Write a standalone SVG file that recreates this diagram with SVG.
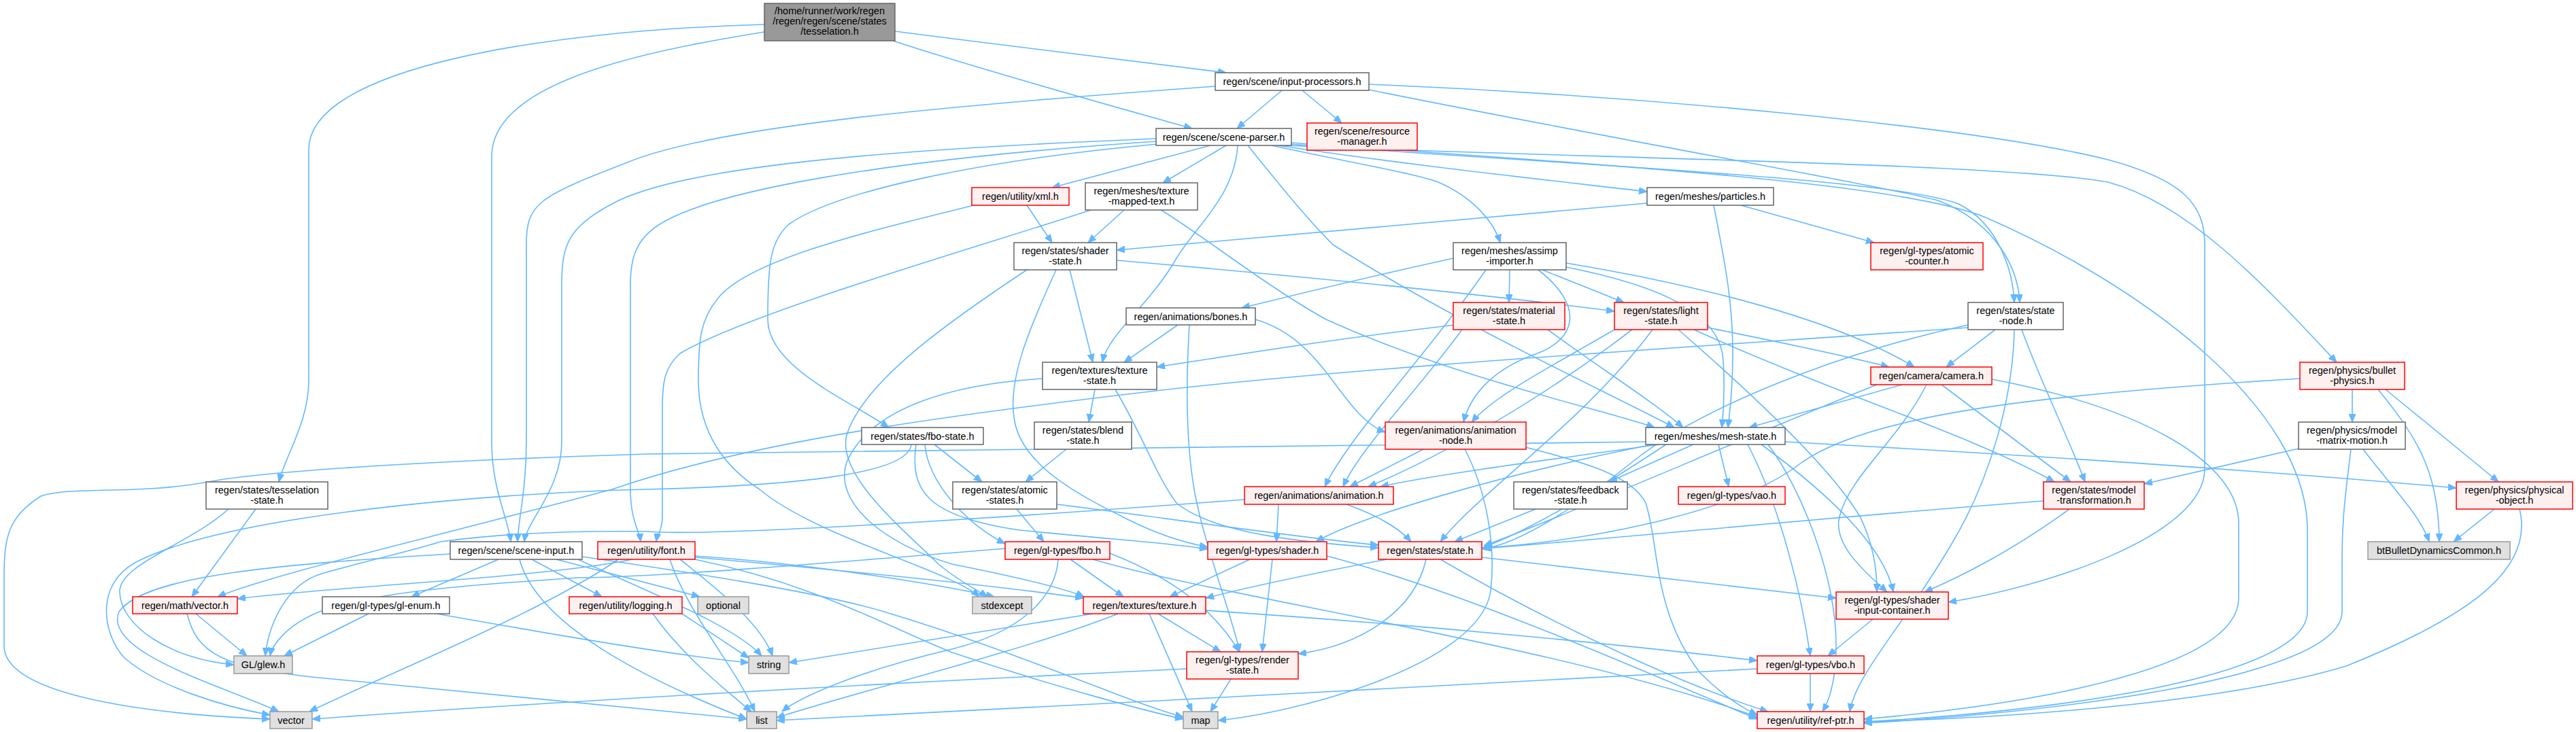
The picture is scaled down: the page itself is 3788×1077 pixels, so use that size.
<svg xmlns="http://www.w3.org/2000/svg" width="3788" height="1077" viewBox="0 0 3788 1077">
<defs>
<marker id="ah" viewBox="0 0 12 10" refX="12" refY="5" markerWidth="12" markerHeight="10" markerUnits="userSpaceOnUse" orient="auto"><path d="M0,0L12,5L0,10z" fill="#63b8ff" stroke="#63b8ff"/></marker>
<style>
.e path{fill:none;stroke:#63b8ff;stroke-width:1.6;marker-end:url(#ah)}
text{font-family:"Liberation Sans",Arial,Helvetica,sans-serif;font-size:14.5px;text-anchor:middle;fill:#000}
.n rect{fill:#ffffff;stroke:#666666;stroke-width:1.5}
.r rect{fill:#fff0f0;stroke:#ff0000}
.g rect{fill:#e0e0e0;stroke:#999999}
.root rect{fill:#999999;stroke:#666666}
</style>
</defs>
<rect width="3788" height="1077" fill="#ffffff"/>
<g id="edges" class="e">
<path d="M1316,46 C1500,70 1700,94 1803,107"/>
<path d="M1313,60 C1450,105 1650,160 1753,189"/>
<path d="M1124,36 C800,45 454,100 454,220 L454,560 C454,620 420,670 410,709"/>
<path d="M1124,47 C950,75 723,120 723,230 L723,650 C723,720 748,765 751,797"/>
<path d="M1885,133 L1819,189"/>
<path d="M1915,133 L1973,181"/>
<path d="M1787,127 C1400,155 1050,185 920,240 C790,290 774,300 774,360 L774,650 C774,720 762,765 761,797"/>
<path d="M1700,204 C1300,220 1000,245 900,300 C835,335 826,360 826,420 L826,650 C826,720 775,765 771,797"/>
<path d="M1700,208 C1300,235 1050,280 970,330 C935,352 927,380 927,420 L927,720 C927,765 940,780 942,797"/>
<path d="M1702,212 C1450,235 1230,280 1160,330 C1132,355 1129,390 1129,470 C1129,540 1250,590 1307,629"/>
<path d="M1780,214 L1547,276"/>
<path d="M1803,214 L1710,269"/>
<path d="M1820,214 C1815,290 1760,330 1730,380 C1690,450 1630,490 1621,533"/>
<path d="M1835,214 C1880,270 1920,320 1960,360 C2150,480 2370,580 2462,629"/>
<path d="M1880,214 C2050,240 2250,262 2422,282"/>
<path d="M1870,214 C1990,240 2080,255 2115,268 C2170,292 2198,330 2206,357"/>
<path d="M1890,214 C2300,232 2950,240 3100,268 C3220,300 3330,420 3436,533"/>
<path d="M1896,212 C2300,242 2780,262 2880,300 C2940,330 2960,400 2962,445"/>
<path d="M2013,132 C2400,210 2750,270 2850,295 C2940,330 2968,400 2970,445"/>
<path d="M1898,210 C2400,245 2800,270 2920,320 C3150,420 3393,600 3393,780 L3393,900 C3393,1000 3000,1048 2741,1062"/>
<path d="M2013,124 C2400,140 2900,185 3100,235 C3210,265 3242,300 3242,360 L3242,690 C3242,790 3000,865 2865,886"/>
<path d="M1510,302 L1547,357"/>
<path d="M1653,309 L1600,357"/>
<path d="M2422,299 L1642,368"/>
<path d="M1432,302 C1300,335 1100,380 1055,440 C1030,470 1027,500 1027,560 C1027,640 1070,690 1117,720 C1200,790 1400,840 1440,878"/>
<path d="M1604,309 C1450,360 1100,460 1000,520 C978,540 974,560 974,600 L974,760 C974,780 966,790 965,797"/>
<path d="M1707,309 C1760,340 1860,420 1950,470 C2150,560 2350,600 2433,629"/>
<path d="M2560,302 L2756,357"/>
<path d="M2520,302 C2535,380 2548,440 2548,520 C2548,580 2543,610 2541,629"/>
<path d="M1573,397 L1607,533"/>
<path d="M1642,383 C1900,405 2200,435 2374,458"/>
<path d="M1553,397 C1515,480 1480,560 1492,620 C1505,690 1600,735 1660,765 C1710,790 1750,800 1776,805"/>
<path d="M1510,397 C1400,470 1270,560 1245,640 C1230,700 1330,780 1380,830 C1410,855 1440,870 1452,878"/>
<path d="M2220,397 L2219,445"/>
<path d="M2268,397 L2388,445"/>
<path d="M2137,380 C2000,410 1900,435 1826,453"/>
<path d="M2303,387 C2500,420 2700,470 2815,540"/>
<path d="M2262,397 C2330,450 2320,500 2255,522 C2185,548 2160,590 2152,621"/>
<path d="M2303,393 C2440,420 2530,460 2534,530 C2537,580 2534,610 2532,629"/>
<path d="M2185,397 C2100,520 1985,640 1948,716"/>
<path d="M2140,478 C1950,500 1800,525 1701,540"/>
<path d="M2276,485 C2350,540 2430,590 2475,629"/>
<path d="M2150,485 C2080,580 2000,660 1975,716"/>
<path d="M2374,485 C2280,540 2200,580 2164,621"/>
<path d="M2511,482 C2600,500 2700,520 2778,540"/>
<path d="M2430,485 C2330,620 2180,720 2118,797"/>
<path d="M2468,485 C2600,600 2700,700 2735,760 C2755,800 2760,840 2760,871"/>
<path d="M2491,485 C2700,580 2900,640 3021,709"/>
<path d="M2400,485 C2250,600 2100,680 2012,716"/>
<path d="M2934,485 L2862,540"/>
<path d="M2973,485 C3000,560 3040,640 3066,709"/>
<path d="M2894,478 C2700,520 2500,600 2400,680 C2300,760 2230,800 2180,808"/>
<path d="M2962,485 C2960,580 2930,700 2870,800 C2800,920 2730,990 2720,1047"/>
<path d="M2894,482 C2500,510 2000,540 1700,575 C1400,610 1100,650 900,720 C600,800 400,845 320,878"/>
<path d="M1732,478 L1653,533"/>
<path d="M1846,470 C1950,500 1970,610 2037,636"/>
<path d="M1749,478 C1744,560 1744,650 1756,720 C1770,800 1810,900 1823,959"/>
<path d="M1610,573 L1601,621"/>
<path d="M1640,573 C1680,640 1700,700 1730,740 C1790,790 1950,800 2027,806"/>
<path d="M1533,557 C1400,565 1280,600 1245,680 C1225,740 1300,800 1400,830 C1500,850 1565,865 1594,878"/>
<path d="M3459,573 L3459,621"/>
<path d="M3508,573 L3674,709"/>
<path d="M3497,573 C3560,650 3586,700 3587,797"/>
<path d="M3382,557 C3000,580 2750,610 2650,680 C2550,760 2300,800 2180,806"/>
<path d="M2797,566 L2572,629"/>
<path d="M2855,566 L3045,709"/>
<path d="M2833,566 C2790,650 2720,700 2705,760 C2695,800 2740,840 2775,871"/>
<path d="M2929,558 C3150,600 3292,680 3292,770 L3292,880 C3292,990 2950,1040 2741,1058"/>
<path d="M2760,566 C2550,650 2300,760 2182,803"/>
<path d="M1374,654 L1444,709"/>
<path d="M1360,654 C1365,710 1420,770 1478,800"/>
<path d="M1347,654 C1338,720 1360,760 1500,780 C1650,795 1730,800 1776,808"/>
<path d="M1340,654 C1336,700 1150,715 950,720 C700,726 330,760 200,827 C140,860 150,930 182,967 C230,1010 330,1040 397,1052"/>
<path d="M1568,661 L1508,709"/>
<path d="M2093,661 L1985,716"/>
<path d="M2154,661 C2185,720 2200,800 2192,870 C2175,980 1900,1050 1791,1060"/>
<path d="M2243,658 C2330,680 2400,700 2420,740 C2440,800 2430,900 2500,990 C2540,1030 2570,1045 2584,1052"/>
<path d="M2490,654 L2366,709"/>
<path d="M2527,654 L2542,716"/>
<path d="M2450,654 C2350,720 2250,780 2182,805"/>
<path d="M2440,654 C2250,680 2100,700 2030,716"/>
<path d="M2590,654 C2680,720 2770,800 2784,871"/>
<path d="M2570,654 C2620,750 2650,880 2662,965"/>
<path d="M2625,650 C2900,665 3300,690 3612,718"/>
<path d="M2420,650 L950,668 C700,676 400,690 300,710 C200,728 100,715 60,730 C12,760 6,790 6,850 L6,950 C6,1020 200,1050 397,1058"/>
<path d="M2430,654 C2200,700 2000,760 1935,797"/>
<path d="M2600,654 C2650,720 2700,850 2700,950 C2700,1000 2690,1030 2680,1047"/>
<path d="M3380,660 L3153,712"/>
<path d="M3475,661 C3520,720 3560,760 3572,797"/>
<path d="M3457,661 C3450,720 3444,760 3444,820 L3444,900 C3444,1000 3000,1050 2741,1064"/>
<path d="M1495,749 L1535,797"/>
<path d="M1554,742 C1700,760 1900,790 2027,802"/>
<path d="M1880,742 L1877,797"/>
<path d="M1980,742 C2030,760 2060,780 2075,797"/>
<path d="M1830,735 C1500,760 1050,790 950,782 C800,780 700,790 648,797 C600,812 520,830 473,844 C420,860 395,920 390,965"/>
<path d="M2258,749 L2139,797"/>
<path d="M3043,749 C2960,810 2880,850 2830,871"/>
<path d="M3005,737 C2700,760 2400,790 2182,807"/>
<path d="M3668,749 L3608,797"/>
<path d="M3705,749 C3725,830 3650,900 3450,980 C3250,1040 2900,1058 2741,1062"/>
<path d="M733,823 L605,878"/>
<path d="M782,823 L885,878"/>
<path d="M818,823 L1029,878"/>
<path d="M850,823 C950,870 1080,920 1120,965"/>
<path d="M662,815 C420,830 215,845 175,900 C150,960 330,1010 410,1047"/>
<path d="M764,823 C790,920 950,1000 1098,1058"/>
<path d="M856,819 C1000,840 1200,870 1300,900 C1500,960 1650,1030 1740,1055"/>
<path d="M930,823 C800,850 500,862 349,881"/>
<path d="M909,823 C800,900 550,1000 455,1047"/>
<path d="M1022,820 C1250,840 1450,860 1593,880"/>
<path d="M1022,818 C1200,830 1380,860 1462,878"/>
<path d="M1000,823 C1060,870 1120,920 1136,965"/>
<path d="M1022,823 C1200,860 1300,920 1400,960 C1550,1010 1680,1045 1740,1058"/>
<path d="M985,823 C1010,900 1080,980 1110,1047"/>
<path d="M1574,823 L1652,878"/>
<path d="M1632,814 C1750,860 1800,920 1822,959"/>
<path d="M1556,823 C1552,880 1500,930 1400,955 C1250,990 1170,1030 1150,1047"/>
<path d="M1478,807 C1200,830 950,850 850,850 C700,860 550,870 470,900 C420,920 400,950 397,965"/>
<path d="M1607,823 C1800,880 2300,950 2584,1055"/>
<path d="M1838,823 L1720,878"/>
<path d="M1871,823 L1856,959"/>
<path d="M1951,818 C2150,870 2400,980 2584,1058"/>
<path d="M2179,820 L2700,880"/>
<path d="M2097,823 C2080,900 2000,950 1909,962"/>
<path d="M2118,823 C2250,900 2450,1000 2600,1047"/>
<path d="M2039,823 C1950,840 1850,860 1773,880"/>
<path d="M1607,903 L1160,975"/>
<path d="M1644,903 C1500,960 1250,1020 1142,1056"/>
<path d="M1690,903 L1753,1047"/>
<path d="M1703,903 L1795,959"/>
<path d="M1773,898 C2100,920 2400,950 2584,972"/>
<path d="M2754,911 L2688,965"/>
<path d="M2662,991 L2662,1047"/>
<path d="M2584,984 C2200,1000 1600,1040 1142,1060"/>
<path d="M1810,999 L1780,1047"/>
<path d="M1745,984 C1200,1010 700,1040 459,1058"/>
<path d="M542,903 L418,965"/>
<path d="M642,903 C850,940 1000,965 1101,975"/>
<path d="M288,903 L363,965"/>
<path d="M275,903 C290,960 320,985 500,1000 C800,1030 1000,1050 1098,1058"/>
<path d="M376,749 L282,878"/>
<path d="M336,749 C280,800 176,830 176,870 C176,920 250,970 344,978"/>
<path d="M1003,903 L1101,968"/>
<path d="M960,903 C1000,960 1060,1010 1105,1047"/>
</g>
<g id="node-root" class="n root"><rect x="1124" y="5" width="192" height="55"/><text x="1220" y="21">/home/runner/work/regen</text><text x="1220" y="36">/regen/regen/scene/states</text><text x="1220" y="51">/tesselation.h</text></g>
<g id="node-input-processors" class="n"><rect x="1787" y="107" width="226" height="26"/><text x="1900" y="125">regen/scene/input-processors.h</text></g>
<g id="node-scene-parser" class="n"><rect x="1700" y="189" width="199" height="25"/><text x="1799.5" y="206.5">regen/scene/scene-parser.h</text></g>
<g id="node-resource-manager" class="n r"><rect x="1922" y="181" width="162" height="40"/><text x="2003" y="198">regen/scene/resource</text><text x="2003" y="212.5">-manager.h</text></g>
<g id="node-xml" class="n r"><rect x="1429" y="276" width="143" height="26"/><text x="1500.5" y="294">regen/utility/xml.h</text></g>
<g id="node-texture-mapped-text" class="n"><rect x="1596" y="269" width="165" height="40"/><text x="1678.5" y="286">regen/meshes/texture</text><text x="1678.5" y="300.5">-mapped-text.h</text></g>
<g id="node-particles" class="n"><rect x="2422" y="276" width="186" height="26"/><text x="2515" y="294">regen/meshes/particles.h</text></g>
<g id="node-shader-state" class="n"><rect x="1491" y="357" width="151" height="40"/><text x="1566.5" y="374">regen/states/shader</text><text x="1566.5" y="388.5">-state.h</text></g>
<g id="node-assimp-importer" class="n"><rect x="2137" y="357" width="166" height="40"/><text x="2220" y="374">regen/meshes/assimp</text><text x="2220" y="388.5">-importer.h</text></g>
<g id="node-atomic-counter" class="n r"><rect x="2751" y="357" width="165" height="40"/><text x="2833.5" y="374">regen/gl-types/atomic</text><text x="2833.5" y="388.5">-counter.h</text></g>
<g id="node-material-state" class="n r"><rect x="2137" y="445" width="164" height="40"/><text x="2219" y="462">regen/states/material</text><text x="2219" y="476.5">-state.h</text></g>
<g id="node-light-state" class="n r"><rect x="2374" y="445" width="137" height="40"/><text x="2442.5" y="462">regen/states/light</text><text x="2442.5" y="476.5">-state.h</text></g>
<g id="node-state-node" class="n"><rect x="2894" y="445" width="140" height="40"/><text x="2964" y="462">regen/states/state</text><text x="2964" y="476.5">-node.h</text></g>
<g id="node-bones" class="n"><rect x="1656" y="453" width="190" height="25"/><text x="1751" y="470.5">regen/animations/bones.h</text></g>
<g id="node-texture-state" class="n"><rect x="1533" y="533" width="168" height="40"/><text x="1617" y="550">regen/textures/texture</text><text x="1617" y="564.5">-state.h</text></g>
<g id="node-bullet-physics" class="n r"><rect x="3382" y="533" width="154" height="40"/><text x="3459" y="550">regen/physics/bullet</text><text x="3459" y="564.5">-physics.h</text></g>
<g id="node-camera" class="n r"><rect x="2751" y="540" width="178" height="26"/><text x="2840" y="558">regen/camera/camera.h</text></g>
<g id="node-fbo-state" class="n"><rect x="1267" y="629" width="179" height="25"/><text x="1356.5" y="646.5">regen/states/fbo-state.h</text></g>
<g id="node-blend-state" class="n"><rect x="1521" y="621" width="143" height="40"/><text x="1592.5" y="638">regen/states/blend</text><text x="1592.5" y="652.5">-state.h</text></g>
<g id="node-animation-node" class="n r"><rect x="2037" y="621" width="207" height="40"/><text x="2140.5" y="638">regen/animations/animation</text><text x="2140.5" y="652.5">-node.h</text></g>
<g id="node-mesh-state" class="n"><rect x="2420" y="629" width="205" height="25"/><text x="2522.5" y="646.5">regen/meshes/mesh-state.h</text></g>
<g id="node-model-matrix-motion" class="n"><rect x="3380" y="621" width="157" height="40"/><text x="3458.5" y="638">regen/physics/model</text><text x="3458.5" y="652.5">-matrix-motion.h</text></g>
<g id="node-tesselation-state" class="n"><rect x="303" y="709" width="179" height="40"/><text x="392.5" y="726">regen/states/tesselation</text><text x="392.5" y="740.5">-state.h</text></g>
<g id="node-atomic-states" class="n"><rect x="1401" y="709" width="153" height="40"/><text x="1477.5" y="726">regen/states/atomic</text><text x="1477.5" y="740.5">-states.h</text></g>
<g id="node-animation" class="n r"><rect x="1830" y="716" width="219" height="26"/><text x="1939.5" y="734">regen/animations/animation.h</text></g>
<g id="node-feedback-state" class="n"><rect x="2226" y="709" width="167" height="40"/><text x="2309.5" y="726">regen/states/feedback</text><text x="2309.5" y="740.5">-state.h</text></g>
<g id="node-vao" class="n r"><rect x="2468" y="716" width="157" height="26"/><text x="2546.5" y="734">regen/gl-types/vao.h</text></g>
<g id="node-model-transformation" class="n r"><rect x="3005" y="709" width="148" height="40"/><text x="3079" y="726">regen/states/model</text><text x="3079" y="740.5">-transformation.h</text></g>
<g id="node-physical-object" class="n r"><rect x="3612" y="709" width="171" height="40"/><text x="3697.5" y="726">regen/physics/physical</text><text x="3697.5" y="740.5">-object.h</text></g>
<g id="node-scene-input" class="n"><rect x="662" y="797" width="194" height="26"/><text x="759" y="815">regen/scene/scene-input.h</text></g>
<g id="node-font" class="n r"><rect x="879" y="797" width="143" height="26"/><text x="950.5" y="815">regen/utility/font.h</text></g>
<g id="node-fbo" class="n r"><rect x="1478" y="797" width="154" height="26"/><text x="1555" y="815">regen/gl-types/fbo.h</text></g>
<g id="node-shader" class="n r"><rect x="1776" y="797" width="175" height="26"/><text x="1863.5" y="815">regen/gl-types/shader.h</text></g>
<g id="node-state" class="n r"><rect x="2027" y="797" width="152" height="26"/><text x="2103" y="815">regen/states/state.h</text></g>
<g id="node-btBullet" class="n g"><rect x="3482" y="797" width="209" height="26"/><text x="3586.5" y="815">btBulletDynamicsCommon.h</text></g>
<g id="node-math-vector" class="n r"><rect x="195" y="878" width="154" height="25"/><text x="272" y="895.5">regen/math/vector.h</text></g>
<g id="node-gl-enum" class="n"><rect x="474" y="878" width="187" height="25"/><text x="567.5" y="895.5">regen/gl-types/gl-enum.h</text></g>
<g id="node-logging" class="n r"><rect x="837" y="878" width="166" height="25"/><text x="920" y="895.5">regen/utility/logging.h</text></g>
<g id="node-optional" class="n g"><rect x="1026" y="878" width="75" height="25"/><text x="1063.5" y="895.5">optional</text></g>
<g id="node-stdexcept" class="n g"><rect x="1430" y="878" width="87" height="25"/><text x="1473.5" y="895.5">stdexcept</text></g>
<g id="node-texture" class="n r"><rect x="1593" y="878" width="180" height="25"/><text x="1683" y="895.5">regen/textures/texture.h</text></g>
<g id="node-shader-input-container" class="n r"><rect x="2700" y="871" width="165" height="40"/><text x="2782.5" y="888">regen/gl-types/shader</text><text x="2782.5" y="902.5">-input-container.h</text></g>
<g id="node-glew" class="n g"><rect x="344" y="965" width="86" height="26"/><text x="387" y="983">GL/glew.h</text></g>
<g id="node-string" class="n g"><rect x="1101" y="965" width="59" height="26"/><text x="1130.5" y="983">string</text></g>
<g id="node-render-state" class="n r"><rect x="1745" y="959" width="164" height="40"/><text x="1827" y="976">regen/gl-types/render</text><text x="1827" y="990.5">-state.h</text></g>
<g id="node-vbo" class="n r"><rect x="2584" y="965" width="157" height="26"/><text x="2662.5" y="983">regen/gl-types/vbo.h</text></g>
<g id="node-vector" class="n g"><rect x="397" y="1047" width="62" height="25"/><text x="428" y="1064.5">vector</text></g>
<g id="node-list" class="n g"><rect x="1098" y="1047" width="44" height="25"/><text x="1120" y="1064.5">list</text></g>
<g id="node-map" class="n g"><rect x="1740" y="1047" width="51" height="25"/><text x="1765.5" y="1064.5">map</text></g>
<g id="node-ref-ptr" class="n r"><rect x="2584" y="1047" width="157" height="25"/><text x="2662.5" y="1064.5">regen/utility/ref-ptr.h</text></g>
</svg>
